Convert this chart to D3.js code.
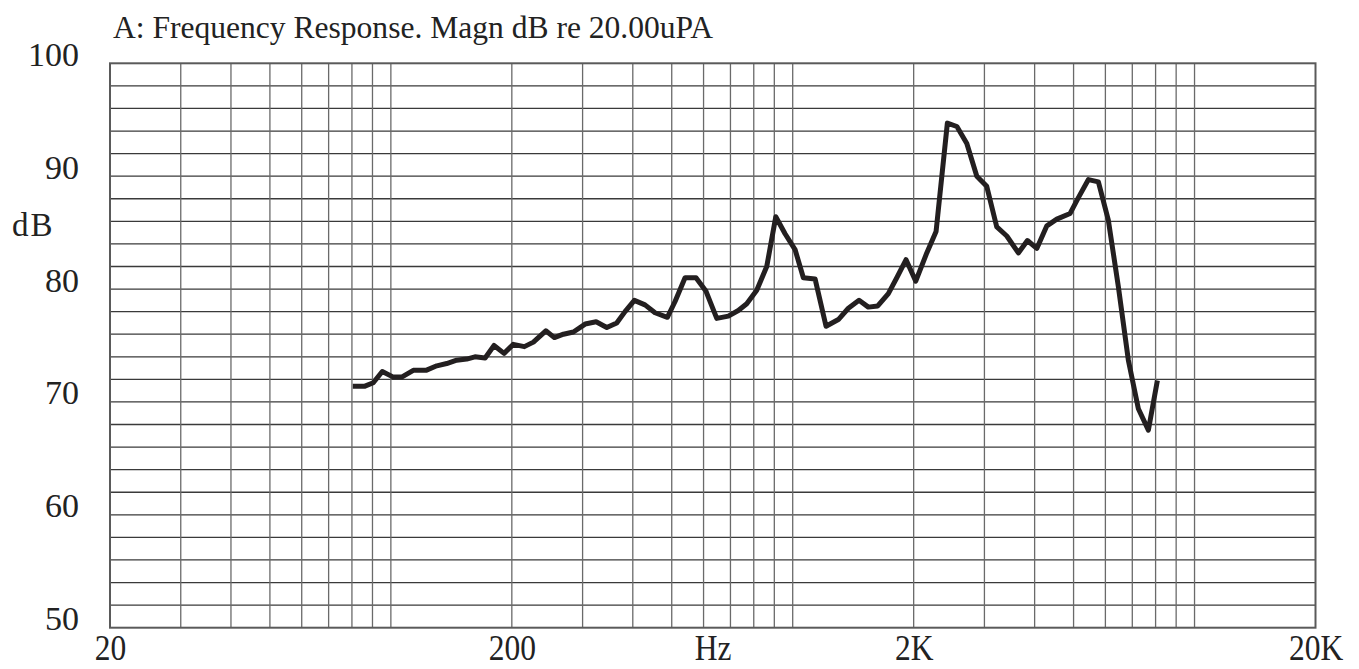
<!DOCTYPE html>
<html>
<head>
<meta charset="utf-8">
<script src="https://cdn.jsdelivr.net/npm/d3@7"></script>
<style>
  html, body { margin: 0; padding: 0; background: #fff; }
  svg { display: block; }
  text { font-family: "Liberation Serif", "DejaVu Serif", serif; fill: #222; }
</style>
</head>
<body>
<svg id="chart" width="1359" height="669"></svg>
<script>
/* ── DATA ── */
const freqs = [80.4, 86.2, 90.4, 95.2, 101.4, 106.4, 113.7, 122.3, 130.1, 137.7,
  145.8, 154.4, 161.9, 171.6, 180.6, 191.3, 201.7, 214.9, 226.3, 243,
  255.2, 268.8, 284.6, 304.4, 324.2, 344.6, 364.8, 382.6, 403.6, 429,
  454.4, 487.6, 509.6, 539.6, 574.6, 608.6, 647.2, 691.6, 732.2, 768.4,
  813.8, 861.8, 907.6, 957.2, 1013.6, 1063, 1136.8, 1210.6, 1299, 1375.6,
  1462.4, 1542.8, 1628, 1730, 1815.6, 1914.8, 2024, 2156, 2274, 2426,
  2562, 2712, 2872, 3040, 3220, 3410, 3644, 3838, 4050, 4290,
  4542, 4902, 5140, 5444, 5764, 6102, 6464, 6844, 7248, 7676, 8082];
const levels = [71.4, 71.4, 71.7, 72.7, 72.2, 72.2, 72.8, 72.8, 73.2, 73.4,
  73.7, 73.8, 74.0, 73.9, 75.0, 74.3, 75.1, 74.9, 75.3, 76.3,
  75.7, 76.0, 76.2, 76.9, 77.1, 76.6, 77.0, 78.0, 79.0, 78.6,
  77.9, 77.5, 78.9, 81.0, 81.0, 79.8, 77.4, 77.6, 78.1, 78.7,
  79.9, 82.0, 86.4, 84.9, 83.5, 81.0, 80.9, 76.7, 77.3, 78.3,
  79.0, 78.4, 78.5, 79.6, 81.0, 82.6, 80.7, 83.2, 85.1, 94.7,
  94.4, 92.9, 90.0, 89.1, 85.5, 84.7, 83.2, 84.3, 83.6, 85.6,
  86.2, 86.7, 88.1, 89.7, 89.5, 86.1, 80.2, 73.7, 69.4, 67.5, 71.9];

const xTickVals = [20, 200, 632, 2000, 20000];
const xTickLabels = ['20', '200', 'Hz', '2K', '20K'];
const yTickVals = [100, 90, 80, 70, 60, 50];
const xGridVals = [30, 40, 50, 60, 70, 80, 90, 100,
  200, 300, 400, 500, 600, 700, 800, 900, 1000,
  2000, 3000, 4000, 5000, 6000, 7000, 8000, 9000, 10000];
const yGridVals = d3.range(52, 100, 2);
const title = 'A: Frequency Response. Magn dB re 20.00uPA';
const yUnit = 'dB';

/* ── CHART ── */
(function () {
  const svg = d3.select('#chart');
  const L = 110, R = 1315.5, T = 63.3, B = 627.7;

  const x = d3.scaleLog().domain([20, 20000]).range([L, R]);
  const y = d3.scaleLinear().domain([50, 100]).range([B, T]);

  // Grid
  const g = svg.append('g');
  g.selectAll('line.h').data(yGridVals).join('line')
    .attr('x1', L).attr('x2', R)
    .attr('y1', d => y(d)).attr('y2', d => y(d))
    .attr('stroke', '#3a3a3a').attr('stroke-width', 1.3);

  g.selectAll('line.v').data(xGridVals).join('line')
    .attr('y1', T).attr('y2', B)
    .attr('x1', d => x(d)).attr('x2', d => x(d))
    .attr('stroke', '#6a6a6a').attr('stroke-width', 1.3);

  // Frame
  g.append('rect')
    .attr('x', L).attr('y', T).attr('width', R - L).attr('height', B - T)
    .attr('fill', 'none').attr('stroke', '#5a5a5a').attr('stroke-width', 2);

  // X axis labels (slightly condensed, like the original face)
  const xAxis = d3.axisBottom(x)
    .tickValues(xTickVals)
    .tickFormat((d, i) => xTickLabels[i])
    .tickSize(0).tickPadding(0);
  const xa = svg.append('g').attr('transform', `translate(0,${B})`).call(xAxis);
  xa.select('.domain').remove();
  xa.selectAll('text')
    .attr('y', 32).attr('dy', 0)
    .attr('transform', 'scale(0.9,1)')
    .style('font-family', '"Liberation Serif", serif')
    .style('font-size', '35px').attr('fill', '#222');

  // Y axis labels
  const yAxis = d3.axisLeft(y).tickValues(yTickVals).tickSize(0).tickPadding(0);
  const ya = svg.append('g').attr('transform', `translate(79,0)`).call(yAxis);
  ya.select('.domain').remove();
  ya.selectAll('text')
    .attr('x', 0).attr('dy', 0).attr('y', 2)
    .style('font-family', '"Liberation Serif", serif')
    .style('font-size', '34px').attr('fill', '#222');

  svg.append('text')
    .attr('x', 12).attr('y', y(86) + 15)
    .style('font-size', '33px').style('letter-spacing', '2px')
    .text(yUnit);

  // Title
  svg.append('text')
    .attr('x', 113).attr('y', 38)
    .attr('textLength', 600).attr('lengthAdjust', 'spacingAndGlyphs')
    .style('font-size', '32px')
    .text(title);

  // Curve
  const pts = freqs.map((f, i) => [f, levels[i]]);
  const line = d3.line().x(d => x(d[0])).y(d => y(d[1]));
  svg.append('path').datum(pts)
    .attr('d', line)
    .attr('fill', 'none')
    .attr('stroke', '#231f20')
    .attr('stroke-width', 5)
    .attr('stroke-linejoin', 'round')
    .attr('stroke-linecap', 'butt');
})();
</script>
</body>
</html>
